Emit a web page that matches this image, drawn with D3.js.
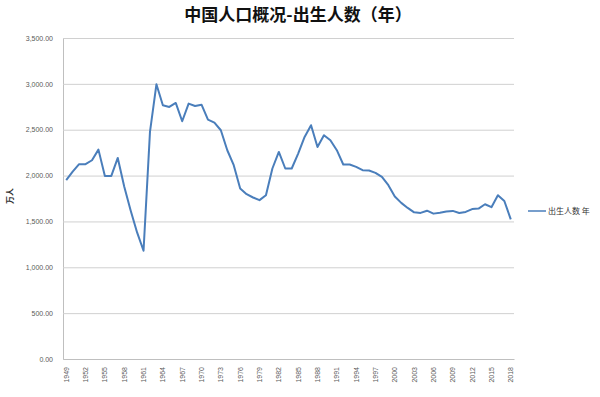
<!DOCTYPE html>
<html>
<head>
<meta charset="utf-8">
<script src="https://cdn.jsdelivr.net/npm/d3@7"></script>
<style>
body{margin:0;background:#fff;}
svg{display:block;}
</style>
</head>
<body>
<svg></svg>
<script>
// data (万人)
var years = d3.range(1949, 2019);
var births = [1950,2042,2124,2124,2167,2283,1996,1996,2192,1880,1620,1380,1180,
  2476,2995,2767,2748,2792,2592,2785,2758,2773,2610,2578,2494,2276,2113,
  1859,1797,1761,1732,1786,2077,2258,2077,2077,2240,2421,2549,2312,2440,
  2386,2277,2121,2121,2095,2059,2055,2030,1986,1895,1771,1702,1647,1599,
  1593,1617,1585,1595,1608,1615,1592,1604,1635,1640,1687,1655,1786,1723,1523];
var yTicks = [0,500,1000,1500,2000,2500,3000,3500];
var seriesName = "出生人数 年";

var width=600;
var height=397;
var plotLeft=63, plotRight=514, plotTop=38, plotBottom=359;

var svg=d3.select("svg")
.attr("width", width)
.attr("height", height)

var x=d3.scaleBand()
.domain(years)
.range([plotLeft, plotRight])
.padding(0);

var y=d3.scaleLinear()
.domain([0, 3500])
.range([plotBottom, plotTop]);

// title
svg.append("text")
.attr("x", 298)
.attr("y", 21)
.attr("text-anchor", "middle")
.attr("font-family", "Noto Sans CJK SC")
.attr("font-weight", "bold")
.attr("font-size", 17)
.attr("fill", "#111")
.text("中国人口概况-出生人数（年）");

// gridlines + y labels
var yAxis=d3.axisLeft(y)
.tickValues(yTicks)
.tickSize(-(plotRight-plotLeft))
.tickPadding(10)
.tickFormat(d3.format(",.2f"));

var gy=svg.append("g")
.attr("transform", "translate(" + plotLeft + ",0)")
.call(yAxis);
gy.select(".domain").attr("stroke", "#bfbfbf");
gy.selectAll(".tick line").attr("stroke", "#d0d0d0");
gy.selectAll(".tick text")
.attr("font-family", "Liberation Sans")
.attr("font-size", 7)
.attr("fill", "#595959");

// x axis labels
var xAxis=d3.axisBottom(x)
.tickValues(years.filter(function(d){return (d-1949)%3==0;}))
.tickSize(0);

var gx=svg.append("g")
.attr("transform", "translate(0," + plotBottom + ")")
.call(xAxis);
gx.select(".domain").attr("stroke", "#bfbfbf");
gx.selectAll(".tick text")
.attr("font-family", "Liberation Sans")
.attr("font-size", 7)
.attr("fill", "#595959")
.attr("text-anchor", "end")
.attr("transform", "rotate(-90)")
.attr("x", -8)
.attr("y", 0)
.attr("dy", "0.35em");

// y axis title
svg.append("text")
.attr("transform", "translate(13,196) rotate(-90)")
.attr("text-anchor", "middle")
.attr("font-family", "Noto Sans CJK SC")
.attr("font-weight", "bold")
.attr("font-size", 8)
.attr("fill", "#333")
.text("万人");

// the line
var line=d3.line()
.x(function(d,i){return x(years[i]) + x.bandwidth()/2;})
.y(function(d){return y(d);});

svg.append("path")
.datum(births)
.attr("d", line)
.attr("fill", "none")
.attr("stroke", "#4a7ebb")
.attr("stroke-width", 2)
.attr("stroke-linejoin", "round");

// legend
svg.append("line")
.attr("x1", 528).attr("x2", 546)
.attr("y1", 211).attr("y2", 211)
.attr("stroke", "#4a7ebb")
.attr("stroke-width", 1.5);
svg.append("text")
.attr("x", 548)
.attr("y", 214)
.attr("font-family", "Noto Sans CJK SC")
.attr("font-size", 8)
.attr("fill", "#333")
.text(seriesName);
</script>
</body>
</html>
